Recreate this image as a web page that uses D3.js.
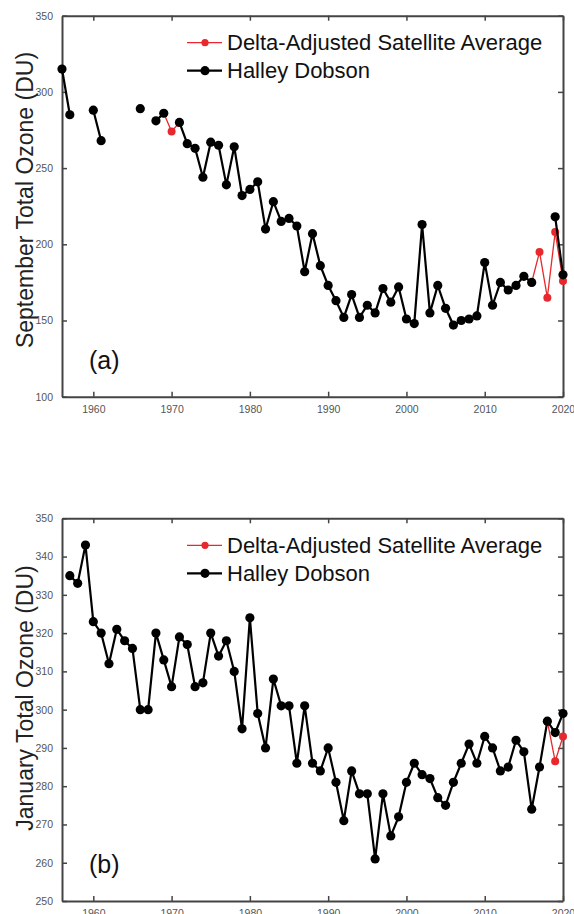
<!DOCTYPE html>
<html>
<head>
<meta charset="utf-8">
<script src="https://cdn.jsdelivr.net/npm/d3@7"></script>
<style>
  body { margin: 0; background: #fff; }
  svg { font-family: "Liberation Sans", Arial, sans-serif; }
  .tick text { fill: #555; font-size: 10.5px; }
</style>
</head>
<body>
<svg width="574" height="914"></svg>
<script>
// September Halley Dobson, 1956-2020 (null = no measurement)
const sepYears = d3.range(1956, 2021);
const sepDobson = [315, 285, null, null, 288, 268, null, null, null, null,
  289, null, 281, 286, null, 280, 266, 263, 244, 267,
  265, 239, 264, 232, 236, 241, 210, 228, 215, 217,
  212, 182, 207, 186, 173, 163, 152, 167, 152, 160,
  155, 171, 162, 172, 151, 148, 213, 155, 173, 158,
  147, 150, 151, 153, 188, 160, 175, 170, 173, 179,
  175, null, null, 218, 180];
const sepSatYears = [1969, 1970, 1971, 2016, 2017, 2018, 2019, 2020];
const sepSat = [286, 274, 280, 175, 195, 165, 208, 176];

// January Halley Dobson, 1957-2020
const janYears = d3.range(1957, 2021);
const janDobson = [335, 333, 343, 323, 320, 312, 321, 318, 316, 300,
  300, 320, 313, 306, 319, 317, 306, 307, 320, 314,
  318, 310, 295, 324, 299, 290, 308, 301, 301, 286,
  301, 286, 284, 290, 281, 271, 284, 278, 278, 261,
  278, 267, 272, 281, 286, 283, 282, 277, 275, 281,
  286, 291, 286, 293, 290, 284, 285, 292, 289, 274,
  285, 297, 294, 299];
const janSatYears = [2018, 2019, 2020];
const janSat = [297, 286.5, 293];

const xTicks = [1960, 1970, 1980, 1990, 2000, 2010, 2020];
const legendLabels = ["Delta-Adjusted Satellite Average", "Halley Dobson"];

const svg = d3.select("svg");
const red = "#e8282c";

const x = d3.scaleLinear().domain([1956, 2020]).range([62, 563]);

function panel(cfg) {
  const y = d3.scaleLinear().domain(cfg.yDomain).range([cfg.bottom, cfg.top]);
  const g = svg.append("g");

  // axes: ticks inward, mirrored on top and right
  const axes = [
    [d3.axisBottom(x).tickValues(xTicks).tickFormat(d3.format("d")), `translate(0,${cfg.bottom})`, true],
    [d3.axisTop(x).tickValues(xTicks), `translate(0,${cfg.top})`, false],
    [d3.axisLeft(y).tickValues(cfg.yTicks), `translate(62,0)`, true],
    [d3.axisRight(y).tickValues(cfg.yTicks), `translate(563,0)`, false]
  ];
  axes.forEach(([ax, tr, labels]) => {
    const a = g.append("g").attr("transform", tr)
      .call(ax.tickSizeInner(-5).tickSizeOuter(0).tickPadding(labels ? 9 : 0));
    a.select(".domain").attr("stroke", "#444").attr("stroke-width", 2);
    a.selectAll(".tick line").attr("stroke", "#444").attr("stroke-width", 1.5);
    if (!labels) a.selectAll(".tick text").remove();
  });

  const line = d3.line()
    .defined(d => d[1] != null)
    .x(d => x(d[0])).y(d => y(d[1]));

  // satellite series, split where years are not consecutive
  const sat = cfg.satYears.map((yr, i) => [yr, cfg.sat[i]]);
  const segs = [];
  sat.forEach((d, i) => {
    if (i === 0 || d[0] - sat[i - 1][0] > 1) segs.push([]);
    segs[segs.length - 1].push(d);
  });
  g.selectAll(".satline").data(segs).enter().append("path")
    .attr("d", line).attr("fill", "none").attr("stroke", red).attr("stroke-width", 1.3);
  g.selectAll(".satdot").data(sat).enter().append("circle")
    .attr("cx", d => x(d[0])).attr("cy", d => y(d[1])).attr("r", 4).attr("fill", red);

  const dob = cfg.years.map((yr, i) => [yr, cfg.dobson[i]]);
  g.append("path").datum(dob)
    .attr("d", line).attr("fill", "none").attr("stroke", "#000").attr("stroke-width", 2.2);
  g.selectAll(".dobdot").data(dob.filter(d => d[1] != null)).enter().append("circle")
    .attr("cx", d => x(d[0])).attr("cy", d => y(d[1])).attr("r", 4.6).attr("fill", "#000");

  // legend
  const leg = g.append("g").attr("transform", `translate(187,${cfg.top + 27})`);
  [[red, 1.3, 3.6], ["#000", 2.2, 4.6]].forEach(([c, w, r], i) => {
    const row = leg.append("g").attr("transform", `translate(0,${i * 28})`);
    row.append("line").attr("x1", 0).attr("x2", 35).attr("stroke", c).attr("stroke-width", w);
    row.append("circle").attr("cx", 18).attr("r", r).attr("fill", c);
    row.append("text").attr("x", 40).attr("dy", "0.35em")
      .attr("font-size", 22).attr("fill", "#111").text(legendLabels[i]);
  });

  // y label
  g.append("text")
    .attr("transform", `translate(33,${cfg.labelY}) rotate(-90)`)
    .attr("text-anchor", "middle").attr("font-size", 23).attr("fill", "#222")
    .text(cfg.yLabel);

  g.append("text").attr("x", 89).attr("y", cfg.bottom - 28)
    .attr("font-size", 25).attr("fill", "#111").text(cfg.tag);
}

panel({
  top: 15.7, bottom: 396.7, yDomain: [100, 350], yTicks: [100, 150, 200, 250, 300, 350],
  years: sepYears, dobson: sepDobson, satYears: sepSatYears, sat: sepSat,
  yLabel: "September Total Ozone (DU)", tag: "(a)", labelY: 200
});
panel({
  top: 518.3, bottom: 901, yDomain: [250, 350], yTicks: d3.range(250, 351, 10),
  years: janYears, dobson: janDobson, satYears: janSatYears, sat: janSat,
  yLabel: "January Total Ozone (DU)", tag: "(b)", labelY: 698
});
</script>
</body>
</html>
